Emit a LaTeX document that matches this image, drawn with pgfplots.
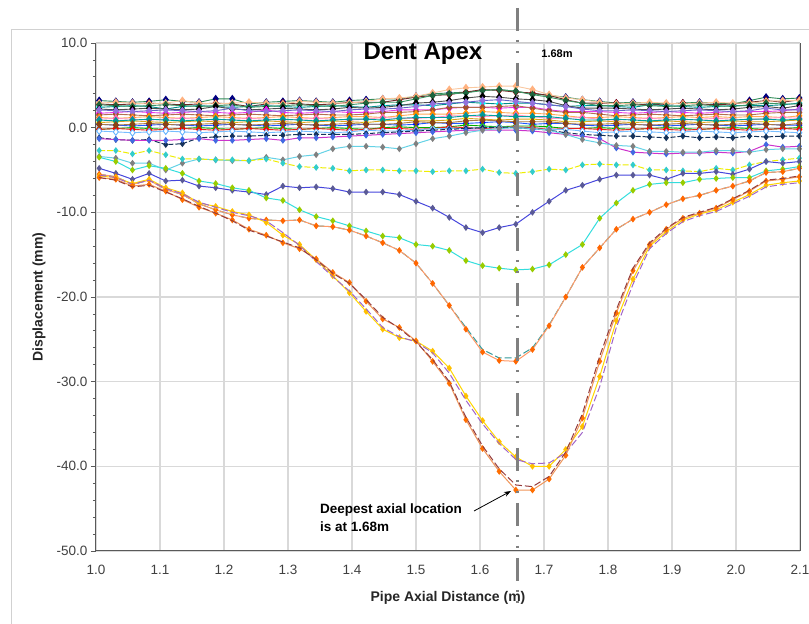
\documentclass[border=0pt]{standalone}
\usepackage{pgfplots}
\pgfplotsset{compat=1.18}
\usepackage{pgfplotstable}
\usepackage{fontspec}
\setmainfont{Liberation Sans}
\usetikzlibrary{arrows.meta}

\definecolor{c1m}{RGB}{0,0,128} \definecolor{c1l}{RGB}{46,139,87}
\definecolor{c2m}{RGB}{139,0,0} \definecolor{c2l}{RGB}{110,40,40}
\definecolor{c3m}{RGB}{0,255,255} \definecolor{c3l}{RGB}{0,140,140}
\definecolor{c4m}{RGB}{255,178,128} \definecolor{c4l}{RGB}{250,200,160}
\definecolor{c5m}{RGB}{30,100,60} \definecolor{c5l}{RGB}{60,150,100}
\definecolor{c6m}{RGB}{0,0,0} \definecolor{c6l}{RGB}{80,80,80}
\definecolor{c7m}{RGB}{255,0,255} \definecolor{c7l}{RGB}{230,60,230}
\definecolor{c8m}{RGB}{160,82,45} \definecolor{c8l}{RGB}{180,110,80}
\definecolor{c9m}{RGB}{147,112,219} \definecolor{c9l}{RGB}{100,100,200}
\definecolor{c10m}{RGB}{255,140,0} \definecolor{c10l}{RGB}{255,170,90}
\definecolor{c11m}{RGB}{255,255,0} \definecolor{c11l}{RGB}{218,165,32}
\definecolor{c12m}{RGB}{255,105,180} \definecolor{c12l}{RGB}{255,150,200}
\definecolor{c13m}{RGB}{0,0,255} \definecolor{c13l}{RGB}{30,90,255}
\definecolor{c14m}{RGB}{0,150,150} \definecolor{c14l}{RGB}{0,160,160}
\definecolor{c15m}{RGB}{0,220,0} \definecolor{c15l}{RGB}{0,170,0}
\definecolor{c16m}{RGB}{255,0,0} \definecolor{c16l}{RGB}{230,30,30}
\definecolor{c17m}{RGB}{100,180,255} \definecolor{c17l}{RGB}{120,190,255}
\definecolor{c18m}{RGB}{139,69,19} \definecolor{c18l}{RGB}{170,120,70}
\definecolor{c19m}{RGB}{20,50,90}
\definecolor{c20m}{RGB}{65,105,225} \definecolor{c20l}{RGB}{204,51,204}
\definecolor{s1m}{RGB}{51,204,204} \definecolor{s1l}{RGB}{238,238,0}
\definecolor{s2m}{RGB}{128,128,128} \definecolor{s2l}{RGB}{100,210,230}
\definecolor{s3m}{RGB}{90,90,150} \definecolor{s3l}{RGB}{70,70,220}
\definecolor{s4m}{RGB}{153,204,0} \definecolor{s4l}{RGB}{51,221,221}
\definecolor{s5m}{RGB}{255,102,0} \definecolor{s5l}{RGB}{255,153,102}
\definecolor{s5b}{RGB}{51,153,153}
\definecolor{a1m}{RGB}{255,192,0} \definecolor{a1l}{RGB}{255,215,0}
\definecolor{a2l}{RGB}{160,100,200}
\definecolor{b1m}{RGB}{255,110,0} \definecolor{b1l}{RGB}{240,150,90}
\definecolor{b2l}{RGB}{150,60,60}
\definecolor{gridc}{RGB}{217,217,217}

\pgfplotstableread{
x L1 L2 L3 L4 L5 L6 L7 L8 L9 L10 L11 L12 L13 L14 L15 L16 L17 L18 L19 L20 S1 S2 S3 S4 S5 S5b A1 A2 B1 B2
1.005 3.2 2.8 2.4 2.9 2.7 2.2 1.7 1.5 2.1 1.2 0.6 1.0 0.4 0.9 -0.2 -0.2 -0.4 0.4 -1.2 -1.3 -2.7 -3.4 -4.8 -3.5 -5.5 -5.5 -5.7 -5.6 -5.9 -5.9
1.031 3.1 2.7 2.5 3.0 2.6 2.1 1.8 1.6 2.0 1.1 0.7 1.1 0.3 0.8 -0.1 -0.1 -0.5 0.3 -1.4 -1.4 -2.7 -3.6 -5.4 -4.0 -5.8 -5.8 -5.9 -5.9 -6.1 -6.2
1.057 3.0 2.8 2.6 2.9 2.5 2.2 1.9 1.5 1.9 1.2 0.8 1.0 0.2 0.9 0.0 -0.2 -0.6 0.4 -1.5 -1.5 -3.1 -4.2 -6.1 -5.0 -6.7 -6.7 -6.6 -6.7 -6.9 -7.0
1.083 3.1 2.9 2.5 2.8 2.6 2.3 1.8 1.4 2.0 1.3 0.7 0.9 0.3 1.0 -0.1 -0.3 -0.5 0.5 -1.4 -1.5 -2.7 -4.2 -5.4 -4.5 -6.2 -6.2 -6.1 -6.2 -6.7 -6.8
1.109 3.3 2.8 2.2 2.9 2.7 2.2 1.7 1.5 2.1 1.2 0.6 1.0 0.4 0.9 -0.2 -0.2 -0.4 0.4 -2.0 -1.5 -3.2 -5.0 -6.3 -4.8 -7.3 -7.3 -7.1 -7.2 -7.5 -7.6
1.135 3.1 2.7 2.5 3.2 2.6 2.1 1.8 1.6 2.0 1.1 0.7 1.1 0.3 0.8 -0.1 -0.1 -0.5 0.3 -1.9 -1.4 -3.7 -4.2 -6.2 -5.4 -7.9 -7.9 -7.7 -7.8 -8.5 -8.4
1.161 3.0 2.8 2.6 2.9 2.5 2.2 1.9 1.5 1.9 1.2 0.8 1.0 0.2 0.9 0.0 -0.2 -0.6 0.4 -1.2 -1.3 -3.7 -3.7 -6.9 -6.3 -9.0 -9.0 -8.9 -8.8 -9.4 -9.3
1.187 3.4 2.9 2.5 2.8 2.6 2.5 1.8 1.4 2.0 1.3 0.7 0.9 0.3 1.0 -0.1 -0.3 -0.5 0.5 -1.1 -1.5 -3.8 -3.8 -7.1 -6.6 -9.7 -9.7 -9.3 -9.4 -10.1 -10.1
1.213 3.4 2.8 2.4 2.9 2.7 2.2 1.7 1.5 2.3 1.2 0.6 1.0 0.4 0.9 -0.2 -0.2 -0.4 0.4 -1.0 -1.5 -3.8 -3.9 -7.4 -7.1 -10.3 -10.3 -9.9 -10.0 -10.9 -11.0
1.239 2.8 2.5 2.5 3.0 2.4 2.1 1.8 1.6 2.0 1.1 0.7 1.1 0.3 0.8 -0.1 -0.1 -0.5 0.3 -1.0 -1.4 -3.9 -3.9 -7.6 -7.4 -10.7 -10.7 -10.3 -10.4 -12.0 -12.1
1.266 3.0 2.8 2.6 2.9 2.5 2.2 2.1 1.5 1.9 1.2 0.8 1.0 0.2 0.9 0.0 -0.2 -0.6 0.4 -0.9 -1.3 -3.7 -3.5 -7.9 -8.3 -10.9 -10.9 -11.2 -11.0 -12.7 -12.8
1.292 3.1 2.9 2.5 2.8 2.6 2.3 1.8 1.4 2.0 1.3 0.7 0.9 0.3 1.0 -0.1 -0.3 -0.5 0.5 -0.9 -1.5 -4.2 -3.8 -6.9 -8.6 -11.0 -11.0 -12.7 -12.4 -13.6 -13.5
1.318 3.2 2.8 2.4 3.1 2.7 2.2 1.7 1.5 2.1 1.2 0.6 1.0 0.4 0.9 -0.2 -0.2 -0.4 0.4 -0.8 -1.2 -4.6 -3.4 -7.1 -9.7 -10.9 -10.9 -13.8 -13.9 -14.3 -14.2
1.344 3.1 2.7 2.5 3.0 2.6 2.1 1.8 1.6 2.0 1.1 0.7 1.1 0.3 0.8 -0.1 -0.1 -0.5 0.3 -0.8 -1.2 -4.7 -3.2 -7.0 -10.5 -11.6 -11.6 -15.6 -15.8 -15.5 -15.6
1.370 3.0 2.8 2.6 2.9 2.5 2.2 1.9 1.5 1.9 1.2 0.8 1.0 0.2 0.9 0.0 -0.2 -0.6 0.4 -0.8 -1.1 -4.8 -2.5 -7.2 -11.0 -11.7 -11.7 -17.5 -17.6 -17.1 -17.2
1.396 3.2 3.0 2.5 2.9 2.7 2.4 1.8 1.5 2.1 1.3 0.7 0.9 0.3 1.0 -0.1 -0.3 -0.5 0.5 -0.8 -1.0 -5.1 -2.2 -7.6 -11.6 -12.1 -12.1 -19.5 -19.3 -18.3 -18.4
1.422 3.3 3.0 2.4 3.1 2.9 2.3 1.8 1.6 2.2 1.3 0.6 1.0 0.4 1.0 -0.2 -0.2 -0.3 0.4 -0.7 -0.9 -5.0 -2.2 -7.6 -12.2 -12.8 -12.8 -21.7 -21.4 -20.5 -20.3
1.448 3.4 3.0 2.6 3.4 3.0 2.4 1.9 1.8 2.2 1.2 0.8 1.2 0.4 0.9 0.0 -0.1 -0.4 0.4 -0.6 -0.8 -5.0 -2.3 -7.6 -12.8 -13.6 -13.6 -23.8 -23.6 -22.6 -22.4
1.474 3.4 3.3 2.7 3.5 3.0 2.6 2.1 1.8 2.3 1.4 0.9 1.1 0.3 1.1 0.1 -0.1 -0.4 0.5 -0.5 -0.7 -5.1 -2.5 -7.9 -13.0 -14.5 -14.5 -24.8 -24.7 -23.6 -23.7
1.500 3.7 3.6 2.7 3.7 3.4 2.9 2.1 1.9 2.5 1.6 0.8 1.1 0.4 1.2 0.0 -0.2 -0.3 0.7 -0.4 -0.6 -5.1 -1.9 -8.7 -13.8 -16.0 -16.0 -25.2 -25.3 -25.2 -25.3
1.526 4.0 3.8 2.6 4.1 3.8 3.0 2.1 2.1 2.8 1.6 0.8 1.2 0.6 1.2 0.0 -0.1 -0.1 0.6 -0.3 -0.5 -5.2 -1.3 -9.5 -14.0 -18.4 -18.4 -26.4 -26.6 -27.6 -27.4
1.552 4.1 3.9 2.8 4.5 4.0 3.2 2.3 2.4 2.9 1.6 0.9 1.4 0.5 1.2 0.1 0.1 -0.1 0.6 -0.2 -0.4 -5.1 -1.0 -10.6 -14.5 -21.0 -21.0 -28.4 -29.0 -30.2 -30.0
1.578 4.2 4.2 3.0 4.7 4.1 3.5 2.4 2.4 3.0 1.7 1.1 1.4 0.5 1.4 0.3 0.0 -0.1 0.8 -0.1 -0.3 -5.1 -0.6 -11.8 -15.7 -23.8 -23.6 -31.7 -32.2 -34.5 -34.2
1.604 4.4 4.5 2.9 4.8 4.4 3.7 2.4 2.4 3.2 1.9 1.0 1.3 0.6 1.5 0.2 -0.1 0.0 0.9 0.0 -0.3 -4.9 -0.3 -12.4 -16.3 -26.5 -26.2 -34.6 -35.0 -37.9 -37.6
1.630 4.5 4.4 2.8 4.9 4.5 3.6 2.3 2.5 3.3 1.8 0.9 1.4 0.7 1.4 0.1 0.0 0.1 0.8 0.0 -0.3 -5.3 -0.1 -11.8 -16.6 -27.5 -27.2 -37.1 -37.3 -40.6 -40.3
1.656 4.3 4.2 2.9 4.9 4.3 3.4 2.4 2.6 3.1 1.7 1.0 1.5 0.6 1.3 0.2 0.1 0.0 0.7 0.0 -0.3 -5.4 0.0 -11.4 -16.8 -27.6 -27.2 -38.9 -39.2 -42.8 -42.2
1.682 4.0 4.1 2.9 4.5 3.9 3.3 2.4 2.3 2.9 1.7 1.0 1.3 0.4 1.3 0.2 0.0 -0.2 0.7 -0.1 -0.4 -5.2 -0.1 -10.0 -16.7 -26.2 -26.0 -40.0 -39.7 -42.8 -42.4
1.708 3.8 3.8 2.7 3.9 3.6 3.1 2.1 2.0 2.7 1.6 0.9 1.1 0.5 1.3 0.1 -0.2 -0.2 0.7 -0.3 -0.6 -4.9 -0.3 -8.7 -16.2 -23.4 -23.3 -40.0 -39.6 -41.5 -41.2
1.734 3.6 3.3 2.5 3.5 3.2 2.6 1.9 1.8 2.5 1.4 0.7 1.1 0.5 1.1 -0.1 -0.1 -0.2 0.5 -0.6 -0.8 -5.0 -0.8 -7.4 -15.0 -20.0 -20.0 -38.0 -38.4 -38.7 -38.3
1.760 3.3 2.9 2.6 3.3 2.9 2.3 1.9 1.8 2.2 1.2 0.7 1.2 0.3 0.9 -0.1 -0.1 -0.4 0.4 -0.8 -1.0 -4.4 -1.4 -6.8 -13.8 -16.5 -16.5 -35.3 -36.0 -34.3 -33.8
1.787 3.1 2.9 2.6 3.0 2.6 2.3 1.9 1.6 2.0 1.2 0.8 1.0 0.2 0.9 0.0 -0.2 -0.6 0.4 -0.9 -1.3 -4.3 -1.8 -6.1 -10.7 -14.2 -14.2 -29.4 -30.6 -27.6 -27.0
1.813 2.9 2.9 2.5 2.8 2.6 2.3 1.8 1.4 2.0 1.3 0.7 0.9 0.3 1.0 -0.1 -0.3 -0.5 0.5 -1.0 -2.4 -4.4 -2.1 -5.6 -8.9 -12.0 -12.0 -22.8 -23.6 -21.9 -21.5
1.839 3.0 2.8 2.4 2.9 2.7 2.2 1.7 1.5 2.1 1.2 0.6 1.0 0.4 0.9 -0.2 -0.2 -0.4 0.4 -1.0 -2.9 -4.4 -2.2 -5.6 -7.4 -10.8 -10.8 -17.9 -18.5 -16.9 -16.6
1.865 2.9 2.7 2.7 3.0 2.6 2.1 1.8 1.6 2.0 1.1 0.7 1.1 0.3 0.8 -0.1 -0.1 -0.5 0.3 -1.1 -3.0 -5.0 -2.8 -5.6 -6.7 -10.0 -10.0 -14.0 -14.3 -13.8 -13.6
1.891 2.8 2.8 2.6 2.9 2.5 2.2 1.9 1.5 1.9 1.2 0.8 1.0 0.2 0.9 0.0 -0.2 -0.6 0.4 -1.2 -3.1 -5.0 -2.8 -6.1 -6.5 -9.1 -9.1 -12.3 -12.5 -12.0 -11.9
1.917 2.9 2.9 2.5 2.8 2.6 2.3 1.8 1.4 2.0 1.3 0.7 0.9 0.3 1.0 -0.1 -0.3 -0.5 0.5 -1.0 -3.0 -5.1 -2.9 -5.4 -6.5 -8.4 -8.4 -10.9 -11.1 -10.7 -10.6
1.943 3.0 2.8 2.4 2.9 2.7 2.2 1.7 1.5 2.1 1.2 0.6 1.0 0.4 0.9 -0.2 -0.2 -0.4 0.4 -1.2 -3.0 -5.2 -2.9 -5.4 -6.1 -8.0 -8.0 -10.2 -10.4 -10.1 -10.0
1.969 2.9 2.7 2.5 3.0 2.6 2.1 1.8 1.6 2.0 1.3 0.7 1.1 0.3 0.8 -0.1 -0.1 -0.5 0.3 -1.1 -2.9 -4.8 -2.7 -5.2 -6.0 -7.4 -7.4 -9.7 -9.9 -9.5 -9.4
1.995 2.8 2.8 2.6 2.9 2.5 2.2 1.9 1.5 1.9 1.2 0.8 1.0 0.2 0.9 0.0 -0.2 -0.6 0.4 -1.2 -3.0 -5.0 -2.7 -5.5 -5.9 -6.9 -6.9 -8.8 -9.0 -8.5 -8.4
2.021 3.2 3.0 2.6 2.9 2.7 2.4 1.9 1.5 2.0 1.3 0.7 0.9 0.3 1.0 -0.1 -0.3 -0.5 0.5 -1.0 -2.8 -4.4 -2.9 -4.9 -5.9 -6.3 -6.3 -7.9 -8.1 -7.5 -7.4
2.047 3.6 3.2 2.6 3.1 2.9 2.5 1.9 1.7 2.3 1.3 0.7 1.1 0.4 1.0 -0.2 -0.2 -0.4 0.4 -1.1 -2.0 -4.0 -2.6 -4.0 -5.1 -5.3 -5.3 -6.8 -7.0 -6.3 -6.2
2.073 3.4 3.0 2.7 3.2 2.8 2.3 2.0 1.8 2.1 1.2 0.8 1.2 0.3 0.9 -0.1 -0.1 -0.5 0.3 -1.0 -2.3 -3.8 -2.5 -4.2 -4.9 -5.2 -5.2 -6.5 -6.7 -6.1 -6.0
2.099 3.5 3.3 2.9 3.2 2.8 2.6 2.2 1.8 2.1 1.4 0.9 1.1 0.3 1.0 0.0 -0.2 -0.6 0.5 -1.0 -2.2 -3.6 -2.5 -4.0 -4.6 -4.8 -4.8 -6.3 -6.5 -5.8 -5.7
}\data

\pgfplotsset{
  bl/.style 2 args={draw=#1, line width=0.9pt, mark=diamond*, mark size=3.4pt, mark options={solid, fill=#2, draw=#2}},
  sl/.style 2 args={draw=#1, line width=1pt, mark=diamond*, mark size=2.6pt, mark options={solid, fill=#2, draw=#2}},
  dl/.style={draw=#1, line width=1pt, dash pattern=on 7pt off 3pt, no marks},
}

\begin{document}
\begin{tikzpicture}[x=1pt,y=1pt]
\path[use as bounding box] (0,0) rectangle (809,624);
\fill[white] (0,0) rectangle (809,624);
\draw[black!18, line width=1pt] (11,0) -- (11,594) -- (809,594);
\begin{axis}[
  at={(96pt,73pt)}, anchor=south west,
  scale only axis, width=704pt, height=508pt,
  xmin=1.0, xmax=2.1, ymin=-50, ymax=10,
  xtick={1.0,1.1,1.2,1.3,1.4,1.5,1.6,1.7,1.8,1.9,2.0,2.1},
  xticklabels={1.0,1.1,1.2,1.3,1.4,1.5,1.6,1.7,1.8,1.9,2.0,2.1},
  ytick={-50,-40,-30,-20,-10,0,10},
  yticklabels={-50.0,-40.0,-30.0,-20.0,-10.0,0.0,10.0},
  minor y tick num=4,
  grid=major,
  major grid style={color=gridc, line width=1.5pt},
  axis line style={draw=none},
  xtick pos=bottom, ytick pos=left,
  xtick align=inside, ytick align=outside,
  xtick style={color=gridc, line width=1.5pt},
  ytick style={color=black!65, line width=0.8pt},
  major tick length=5pt, minor tick length=3pt,
  ticklabel style={font=\fontsize{13.5}{14}\selectfont, text=black!75},
  xticklabel style={yshift=-11pt},
  xlabel={Pipe Axial Distance (m)},
  ylabel={Displacement (mm)},
  label style={font=\fontsize{14}{16}\selectfont\bfseries, text=black!85},
  xlabel style={at={(axis description cs:0.5,-0.0925)}, anchor=center},
  ylabel style={at={(axis description cs:-0.081,0.5)}, anchor=center},
  clip mode=individual,
]
\addplot[bl={c1l}{c1m}] table[x=x,y=L1]{\data};
\addplot[bl={c2l}{c2m}] table[x=x,y=L2]{\data};
\addplot[bl={c3l}{c3m}] table[x=x,y=L3]{\data};
\addplot[bl={c4l}{c4m}] table[x=x,y=L4]{\data};
\addplot[bl={c5l}{c5m}] table[x=x,y=L5]{\data};
\addplot[bl={c6l}{c6m}] table[x=x,y=L6]{\data};
\addplot[bl={c7l}{c7m}] table[x=x,y=L7]{\data};
\addplot[bl={c8l}{c8m}] table[x=x,y=L8]{\data};
\addplot[bl={c9l}{c9m}] table[x=x,y=L9]{\data};
\addplot[bl={c10l}{c10m}] table[x=x,y=L10]{\data};
\addplot[bl={c11l}{c11m}] table[x=x,y=L11]{\data};
\addplot[bl={c12l}{c12m}] table[x=x,y=L12]{\data};
\addplot[bl={c13l}{c13m}] table[x=x,y=L13]{\data};
\addplot[bl={c14l}{c14m}] table[x=x,y=L14]{\data};
\addplot[bl={c15l}{c15m}] table[x=x,y=L15]{\data};
\addplot[bl={c16l}{c16m}] table[x=x,y=L16]{\data};
\addplot[bl={c17l}{c17m}, mark options={solid, fill=white, draw=c17m}] table[x=x,y=L17]{\data};
\addplot[bl={c18l}{c18m}] table[x=x,y=L18]{\data};
\addplot[sl={c19m}{c19m}, dash pattern=on 5pt off 2pt] table[x=x,y=L19]{\data};
\addplot[sl={c20l}{c20m}] table[x=x,y=L20]{\data};
\addplot[sl={s2l}{s2m}] table[x=x,y=S2]{\data};
\addplot[sl={s1l}{s1m}, dash pattern=on 6pt off 2pt] table[x=x,y=S1]{\data};
\addplot[sl={s3l}{s3m}] table[x=x,y=S3]{\data};
\addplot[sl={s4l}{s4m}] table[x=x,y=S4]{\data};
\addplot[dl=s5b] table[x=x,y=S5b]{\data};
\addplot[sl={s5l}{s5m}] table[x=x,y=S5]{\data};
\addplot[sl={a1l}{a1m}] table[x=x,y=A1]{\data};
\addplot[dl=a2l] table[x=x,y=A2]{\data};
\addplot[sl={b1l}{b1m}] table[x=x,y=B1]{\data};
\addplot[dl=b2l] table[x=x,y=B2]{\data};
\draw[black!20, line width=1pt] (rel axis cs:0,1) -- (rel axis cs:1,1);
\draw[black!65, line width=1pt] (rel axis cs:0,1) -- (rel axis cs:0,0) -- (rel axis cs:1,0) -- (rel axis cs:1,1);
\end{axis}
\draw[black!50, line width=3pt, dash pattern=on 23pt off 9pt on 2pt off 9pt on 2pt off 10pt] (517,616) -- (517,14);
\node[font=\fontsize{24}{24}\selectfont\bfseries] at (423,570) {Dent Apex};
\node[font=\fontsize{11}{11}\selectfont\bfseries] at (557,570) {1.68m};
\node[font=\fontsize{13.5}{18}\selectfont\bfseries, align=left, anchor=west, inner sep=0pt] at (320,106) {Deepest axial location\\is at 1.68m};
\draw[-{Stealth[length=7pt,width=5pt]}, line width=0.8pt] (474,113) -- (511,133);
\end{tikzpicture}
\end{document}
